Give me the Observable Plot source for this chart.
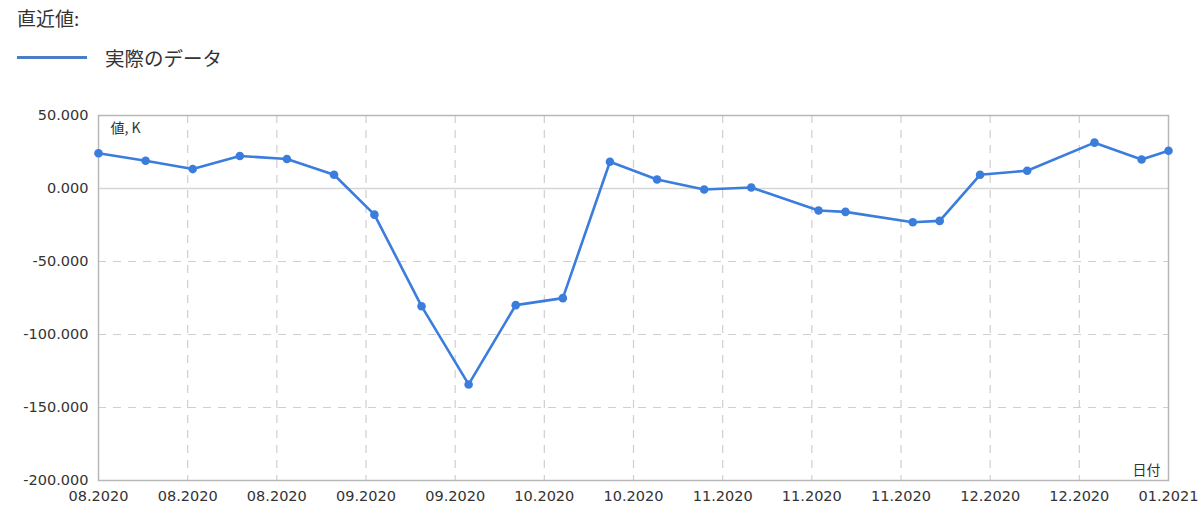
<!DOCTYPE html>
<html>
<head>
<meta charset="utf-8">
<script src="https://cdn.jsdelivr.net/npm/d3@7"></script>
<script src="https://cdn.jsdelivr.net/npm/@observablehq/plot@0.6"></script>
<style>
  html, body { margin: 0; padding: 0; background: #fff; }
  body { width: 1200px; height: 529px; position: relative; overflow: hidden; font-family: "Noto Sans CJK JP", "DejaVu Sans", sans-serif; }
  #title { position: absolute; left: 17px; top: 4px; font-size: 19px; color: #333; }
  #legend { position: absolute; left: 17px; top: 43px; font-size: 19.5px; color: #333; display: flex; align-items: center; }
  #legend .sw { width: 70px; height: 3px; background: #4a7fc8; margin-right: 18px; }
  #chart { position: absolute; left: 0; top: 90px; }
</style>
</head>
<body>
<div id="title"></div>
<div id="legend"><div class="sw"></div><span id="legendLabel"></span></div>
<div id="chart"></div>
<script>
const titleText = "直近値:";
const seriesName = "実際のデータ";
const yLabel = "値, K";
const xLabel = "日付";

const dates = [
  "2020-08-01","2020-08-08","2020-08-15","2020-08-22","2020-08-29","2020-09-05",
  "2020-09-11","2020-09-18","2020-09-25","2020-10-02","2020-10-09","2020-10-16",
  "2020-10-23","2020-10-30","2020-11-06","2020-11-16","2020-11-20","2020-11-30",
  "2020-12-04","2020-12-10","2020-12-17","2020-12-27","2021-01-03","2021-01-07"
];
const values = [
  24.1, 19.0, 13.3, 22.3, 20.2, 9.4,
  -17.9, -80.6, -134.2, -79.9, -75.1, 18.3,
  6.2, -0.7, 0.7, -15.1, -16.0, -23.1,
  -22.2, 9.4, 12.2, 31.4, 19.9, 25.9
];
const xTickDates = [
  "2020-08-01T00:00","2020-08-14T06:00","2020-08-27T12:00","2020-09-09T18:00",
  "2020-09-23T00:00","2020-10-06T06:00","2020-10-19T12:00","2020-11-01T18:00",
  "2020-11-15T00:00","2020-11-28T06:00","2020-12-11T12:00","2020-12-24T18:00","2021-01-07T00:00"
];
const yTicks = [50, 0, -50, -100, -150, -200];

document.getElementById("title").textContent = titleText;
document.getElementById("legendLabel").textContent = seriesName;

const parse = d3.utcParse("%Y-%m-%d");
const parseT = d3.utcParse("%Y-%m-%dT%H:%M");
const data = dates.map((d, i) => ({date: parse(d), value: values[i]}));
const xTicks = xTickDates.map(parseT);
const color = "#3b7ddd";
const fmtX = d3.utcFormat("%m.%Y");

const chart = Plot.plot({
  width: 1200,
  height: 439,
  marginLeft: 98,
  marginRight: 32,
  marginTop: 25,
  marginBottom: 49,
  style: {fontFamily: "'DejaVu Sans', sans-serif", fontSize: "14.5px", color: "#333", background: "#fff"},
  x: {type: "utc", domain: [xTicks[0], xTicks[xTicks.length - 1]], label: null},
  y: {domain: [-200, 50], label: null},
  marks: [
    Plot.gridX(xTicks.slice(1, -1), {stroke: "#cfcfcf", strokeOpacity: 1, strokeDasharray: "8,7", strokeWidth: 1.2}),
    Plot.gridY(yTicks.filter(t => t !== 0 && t !== 50 && t !== -200), {stroke: "#cfcfcf", strokeOpacity: 1, strokeDasharray: "8,7", strokeWidth: 1.2}),
    Plot.ruleY([0], {stroke: "#d5d5d5", strokeWidth: 1.5}),
    Plot.frame({stroke: "#b8b8b8", strokeWidth: 1.5}),
    Plot.axisX({ticks: xTicks, tickFormat: fmtX, tickSize: 0, tickPadding: 10, fontSize: 14.5, fill: "#333", label: null}),
    Plot.axisY({ticks: yTicks, tickFormat: d => d.toFixed(3), tickSize: 0, tickPadding: 10, fontSize: 14.5, fill: "#333", label: null}),
    Plot.line(data, {x: "date", y: "value", stroke: color, strokeWidth: 2.6, clip: false}),
    Plot.dot(data, {x: "date", y: "value", fill: color, r: 4.3}),
    Plot.text([yLabel], {frameAnchor: "top-left", dx: 12, dy: 8, fontSize: 14, fill: "#333", fontFamily: "'Noto Sans CJK JP', sans-serif", textAnchor: "start"}),
    Plot.text([xLabel], {frameAnchor: "bottom-right", dx: -8, dy: -6, fontSize: 14, fill: "#333", fontFamily: "'Noto Sans CJK JP', sans-serif", textAnchor: "end"})
  ]
});
document.getElementById("chart").appendChild(chart);
</script>
</body>
</html>
